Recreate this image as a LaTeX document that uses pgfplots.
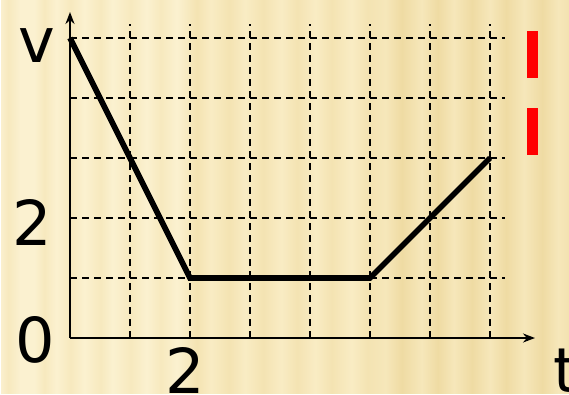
\documentclass[border=0pt]{standalone}
\usepackage{pgfplots}
\pgfplotsset{compat=1.18}
\usepackage{fontspec}
\setmainfont{DejaVu Sans}
\usetikzlibrary{arrows.meta}

% background tones: cream on the left, more golden to the right
\definecolor{La}{RGB}{251,241,208}
\definecolor{Da}{RGB}{247,233,190}
\definecolor{Lb}{RGB}{249,236,196}
\definecolor{Db}{RGB}{244,227,178}
\definecolor{Lc}{RGB}{246,231,186}
\definecolor{Dc}{RGB}{239,219,163}

\pgfdeclarehorizontalshading{bgstripes}{400bp}{%
color(0bp)=(La); color(8bp)=(Da); color(20bp)=(La); color(34bp)=(La);
color(44bp)=(Da); color(56bp)=(La); color(70bp)=(Da); color(84bp)=(La);
color(100bp)=(Da); color(112bp)=(La); color(130bp)=(Da); color(146bp)=(La);
color(160bp)=(Da); color(176bp)=(La); color(196bp)=(Db); color(210bp)=(Lb);
color(228bp)=(Db); color(244bp)=(Lb); color(262bp)=(Db); color(280bp)=(Lb);
color(296bp)=(Db); color(314bp)=(Lb); color(330bp)=(Db); color(350bp)=(Lb);
color(366bp)=(Db); color(384bp)=(Lc); color(400bp)=(Dc); color(420bp)=(Lc);
color(436bp)=(Dc); color(452bp)=(Lc); color(470bp)=(Dc); color(488bp)=(Lc);
color(504bp)=(Dc); color(522bp)=(Lc); color(540bp)=(Dc); color(556bp)=(Lc);
color(580bp)=(Dc)}

\tikzset{gridline/.style={black, line width=1.8pt, dash pattern=on 7pt off 5pt}}

\begin{document}
\begin{tikzpicture}
\useasboundingbox (0pt,0pt) rectangle (569pt,394pt);
\clip (0pt,0pt) rectangle (569pt,394pt);
\node[inner sep=0pt, anchor=south west] at (0pt,0pt) {\pgfuseshading{bgstripes}};

\begin{axis}[
  at={(70pt,56pt)}, anchor=south west,
  scale only axis, width=465pt, height=326pt,
  xmin=0, xmax=7.75, ymin=0, ymax=5.4333,
  axis x line=bottom, axis y line=left,
  xtick=\empty, ytick=\empty,
  axis line style={line width=2pt, -{Stealth[length=12pt,width=9pt]}},
  clip=false,
]
  % dashed grid
  \pgfplotsinvokeforeach{1,...,7}{\draw[gridline] (axis cs:#1,0) -- (axis cs:#1,5.23);}
  \pgfplotsinvokeforeach{1,...,5}{\draw[gridline] (axis cs:0,#1) -- (axis cs:7.25,#1);}
  % speed against time
  \addplot[black, line width=5.6pt] coordinates {(0,5) (2,1) (5,1) (7,3)};
\end{axis}

% axis letters and numbers
\begingroup
\fontsize{62}{70}\selectfont
\node[inner sep=0pt, anchor=base] at (37pt,331pt) {v};
\node[inner sep=0pt, anchor=base] at (32pt,149pt) {2};
\node[inner sep=0pt, anchor=base] at (35pt,32pt) {0};
\node[inner sep=0pt, anchor=base] at (185pt,1pt) {2};
\node[inner sep=0pt, anchor=base west] at (553pt,2pt) {t};
\endgroup

% red bars at the right
\fill[red] (527pt,316pt) rectangle (538pt,363pt);
\fill[red] (527pt,239pt) rectangle (538pt,286pt);
\end{tikzpicture}
\end{document}
